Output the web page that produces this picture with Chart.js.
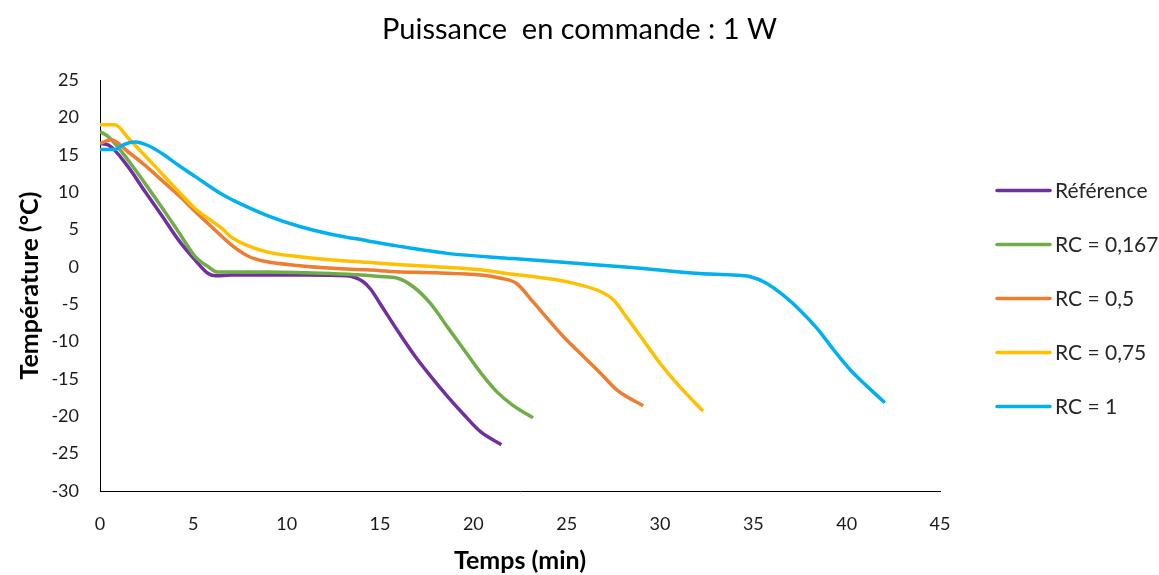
<!DOCTYPE html>
<html>
<head>
<meta charset="utf-8">
<script src="https://cdn.jsdelivr.net/npm/chart.js@4.4.1/dist/chart.umd.min.js"></script>
<style>
html, body { margin: 0; padding: 0; background: #fff; }
</style>
</head>
<body>
<canvas id="myChart" width="1159" height="575"></canvas>
<script>
// Temps (min) / Température (°C)
var refTime = [0, 0.45, 1.5, 2.4, 3.3, 4.2, 5.1, 5.8, 6.2, 7, 9, 11, 13.2, 14.1, 14.5, 15, 15.9, 16.8, 17.7, 18.6, 19.5, 20.4, 21.5];
var refTemp = [16.5, 16.3, 13.4, 10.1, 6.9, 3.6, 0.9, -0.9, -1.2, -1.1, -1.1, -1.1, -1.2, -2.0, -3.0, -4.9, -8.4, -11.7, -14.6, -17.3, -19.8, -22.1, -23.8];

var rc167Time = [0, 0.45, 1.5, 2.4, 3.3, 4.2, 5.09, 5.8, 6.3, 7, 9, 11, 12.3, 14, 15, 15.9, 16.8, 17.7, 18.6, 19.5, 20.4, 21.25, 22.1, 23.2];
var rc167Temp = [18.1, 17.4, 14.3, 11.2, 8.0, 4.7, 1.4, 0.0, -0.7, -0.7, -0.7, -0.8, -0.9, -1.1, -1.3, -1.5, -2.7, -4.9, -8.0, -11.1, -14.2, -16.7, -18.5, -20.2];

var rc05Time = [0, 0.6, 1.5, 2.4, 3.3, 4.2, 5.1, 6.0, 7.1, 8.0, 8.9, 10.7, 12.5, 14.3, 15.9, 18, 20.4, 21.4, 22.3, 23.2, 24.1, 25, 25.9, 26.8, 27.7, 29.1];
var rc05Temp = [16.5, 17.0, 15.4, 13.6, 11.6, 9.6, 7.4, 5.3, 2.8, 1.35, 0.7, 0.15, -0.2, -0.4, -0.65, -0.8, -1.1, -1.5, -2.2, -4.7, -7.3, -9.8, -12.0, -14.2, -16.5, -18.6];

var rc075Time = [0, 0.8, 1.52, 2.4, 3.3, 4.2, 5.09, 6.5, 7.14, 8.93, 10.7, 12.5, 14.3, 15.9, 18, 20.4, 22.1, 23.2, 25, 26.8, 27.5, 28.2, 29.1, 30, 30.9, 32.3];
var rc075Temp = [19.0, 19.0, 17.2, 14.9, 12.5, 10.1, 7.8, 5.2, 3.8, 2.0, 1.36, 0.9, 0.6, 0.3, 0.0, -0.4, -1.0, -1.3, -2.0, -3.3, -4.4, -6.7, -9.8, -12.9, -15.6, -19.3];

var rc1Time = [0, 0.8, 1.3, 1.9, 2.6, 3.3, 4.2, 5.09, 6.6, 7.14, 8.93, 10.7, 12.5, 14.3, 15.9, 18.6, 22.1, 25.5, 28.5, 32.1, 33.9, 34.8, 35.7, 36.6, 37.5, 38.4, 39.3, 40.2, 41.1, 42.05];
var rc1Temp = [15.7, 15.7, 16.4, 16.7, 16.2, 15.2, 13.6, 12.1, 9.6, 8.9, 6.9, 5.4, 4.3, 3.5, 2.8, 1.8, 1.1, 0.47, -0.1, -0.9, -1.1, -1.3, -2.2, -3.8, -5.8, -8.2, -11.1, -13.8, -16.0, -18.2];

var seriesNames = ["Référence", "RC = 0,167", "RC = 0,5", "RC = 0,75", "RC = 1"];
var seriesColors = ["#7030A0", "#70AD47", "#ED7D31", "#FFC000", "#00B0F0"];
var xTicks = [0, 5, 10, 15, 20, 25, 30, 35, 40, 45];
var yTicks = [-30, -25, -20, -15, -10, -5, 0, 5, 10, 15, 20, 25];

var FONT = "Lato, 'Open Sans', sans-serif";

function pts(t, v){
	var out = [];
	for(var i = 0; i < t.length; i++){
		out.push({x: t[i], y: v[i]});
	}
	return out;
}

var allSeries = [
	pts(refTime, refTemp),
	pts(rc167Time, rc167Temp),
	pts(rc05Time, rc05Temp),
	pts(rc075Time, rc075Temp),
	pts(rc1Time, rc1Temp)
];

var datasets = allSeries.map(function(d, i){
	return {
		label: seriesNames[i],
		data: d,
		borderColor: seriesColors[i],
		backgroundColor: seriesColors[i],
		borderWidth: 3.5,
		pointRadius: 0,
		fill: false,
		cubicInterpolationMode: 'monotone',
		order: seriesNames.length - i // last series on top, like Excel
	};
});

// legend on the right, drawn from the datasets
var sideLegend = {
	id: 'sideLegend',
	afterDraw: function(chart){
		var ctx = chart.ctx;
		var x0 = 997, x1 = 1050, y0 = 190.5, step = 54;
		ctx.save();
		ctx.font = "21px " + FONT;
		ctx.textBaseline = 'middle';
		ctx.textAlign = 'left';
		ctx.lineCap = 'round';
		chart.data.datasets.forEach(function(ds, i){
			var y = y0 + i * step;
			ctx.strokeStyle = ds.borderColor;
			ctx.lineWidth = 3.5;
			ctx.beginPath();
			ctx.moveTo(x0, y);
			ctx.lineTo(x1, y);
			ctx.stroke();
			ctx.fillStyle = '#262626';
			ctx.fillText(ds.label, 1055, y + 1);
		});
		ctx.restore();
	}
};

var ctx = document.getElementById('myChart');
var myChart = new Chart(ctx, {
	type: 'line',
	data: { datasets: datasets },
	plugins: [sideLegend],
	options: {
		responsive: false,
		animation: false,
		devicePixelRatio: 1,
		layout: { padding: 0 },
		plugins: {
			legend: { display: false },
			tooltip: { enabled: false },
			title: {
				display: true,
				text: 'Puissance  en commande : 1 W',
				color: '#000',
				font: { family: FONT, size: 29, weight: 'normal' },
				padding: { top: 12.6, bottom: 32.6 }
			}
		},
		scales: {
			x: {
				type: 'linear',
				min: 0,
				max: 45,
				afterBuildTicks: function(s){ s.ticks = xTicks.map(function(v){ return {value: v}; }); },
				afterFit: function(s){ s.height = 84; },
				grid: { display: false, drawTicks: false },
				border: { display: true, color: '#000', width: 1 },
				ticks: { color: '#1a1a1a', padding: 22, maxRotation: 0, font: { family: FONT, size: 18 } },
				title: {
					display: true,
					text: 'Temps (min)',
					color: '#000',
					font: { family: FONT, size: 25, weight: 'bold', lineHeight: 1.1 },
					padding: { top: 0, bottom: 0 }
				}
			},
			y: {
				type: 'linear',
				min: -30,
				max: 25,
				afterBuildTicks: function(s){ s.ticks = yTicks.map(function(v){ return {value: v}; }); },
				afterFit: function(s){ s.width = 100; },
				grid: { display: false, drawTicks: false },
				border: { display: true, color: '#000', width: 1 },
				ticks: { color: '#1a1a1a', padding: 21, font: { family: FONT, size: 18 } },
				title: {
					display: true,
					text: 'Température (°C)',
					color: '#000',
					font: { family: FONT, size: 25, weight: 'bold', lineHeight: 1.2 },
					padding: { top: 15, bottom: 0 }
				}
			},
			// empty band on the right that holds the legend
			legendSpace: {
				type: 'linear',
				position: 'right',
				min: 0,
				max: 1,
				afterFit: function(s){ s.width = 219; },
				grid: { display: false, drawTicks: false },
				border: { display: false },
				ticks: { display: false }
			}
		}
	}
});
</script>
</body>
</html>
